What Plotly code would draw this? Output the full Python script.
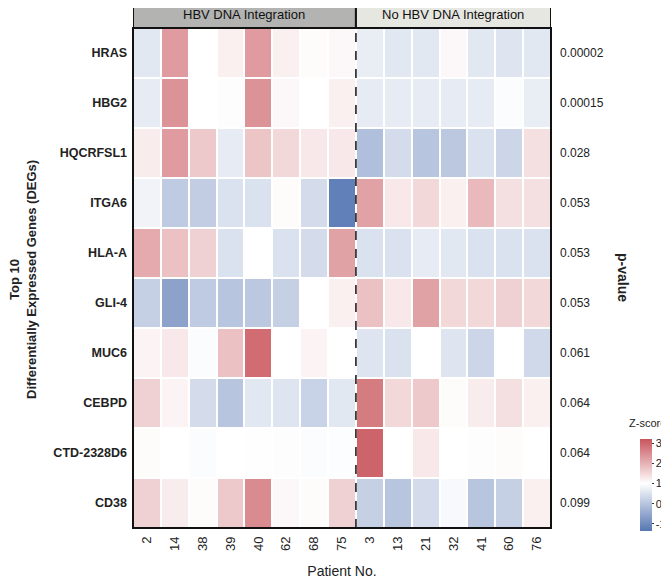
import plotly.graph_objects as go

genes = ["HRAS", "HBG2", "HQCRFSL1", "ITGA6", "HLA-A", "GLI-4", "MUC6", "CEBPD", "CTD-2328D6", "CD38"]
patients = ["2", "14", "38", "39", "40", "62", "68", "75", "3", "13", "21", "32", "41", "60", "76"]
p_values = ["0.00002", "0.00015", "0.028", "0.053", "0.053", "0.053", "0.061", "0.064", "0.064", "0.099"]
group_labels = ["HBV DNA Integration", "No HBV DNA Integration"]
group_sizes = [8, 7]

z_hras = [0.6, 2.3, 1.0, 1.2, 2.3, 1.2, 1.05, 1.1, 0.7, 0.6, 0.6, 1.1, 0.6, 0.55, 0.6]
z_hbg2 = [0.65, 2.4, 1.0, 1.02, 2.4, 1.1, 1.0, 1.2, 0.65, 0.65, 0.65, 0.65, 0.65, 0.95, 0.7]
z_hqcrfsl1 = [1.25, 2.3, 1.7, 0.65, 1.75, 1.5, 1.3, 1.3, -0.1, 0.4, 0.0, 0.05, 0.5, 0.3, 1.4]
z_itga6 = [0.8, 0.1, 0.15, 0.5, 0.5, 1.05, 0.4, -1.2, 2.2, 1.3, 1.5, 1.2, 1.9, 1.4, 1.4]
z_hla_a = [2.1, 1.8, 1.6, 0.5, 1.0, 0.5, 0.4, 2.2, 0.5, 0.5, 0.65, 0.6, 0.5, 0.5, 0.5]
z_gli4 = [0.2, -0.6, 0.1, 0.0, 0.05, 0.2, 1.0, 1.2, 1.8, 1.3, 2.2, 1.5, 1.5, 1.6, 1.5]
z_muc6 = [1.15, 1.3, 0.95, 1.8, 2.9, 1.0, 1.15, 1.0, 0.55, 0.5, 1.0, 0.55, 0.3, 1.0, 0.35]
z_cebpd = [1.6, 1.15, 0.4, 0.0, 0.6, 0.55, 0.25, 0.6, 2.7, 1.5, 1.7, 1.05, 1.25, 1.4, 1.2]
z_ctd = [1.05, 1.0, 0.95, 1.0, 0.98, 0.97, 0.95, 0.96, 3.0, 1.0, 1.3, 1.0, 1.02, 1.05, 1.0]
z_cd38 = [1.6, 1.25, 1.05, 1.7, 2.5, 1.1, 1.05, 1.6, 0.2, 0.0, 0.4, 0.9, 0.0, 0.2, 1.2]

z = [z_hras, z_hbg2, z_hqcrfsl1, z_itga6, z_hla_a, z_gli4, z_muc6, z_cebpd, z_ctd, z_cd38]

FONT = "Liberation Sans, Arial, sans-serif"
cmin, cmax = -1.35, 3.2
mid = (1 - cmin) / (cmax - cmin)
colorscale = [[0, "#5676b3"], [mid, "#ffffff"], [1, "#c8555c"]]

# the page places the figure 8px from the window's top-left corner
OFF = 8
W, H = 669 - OFF, 579 - OFF
L = 133 - OFF
T = 28 - OFF
R = W - (551 - OFF)
B = H - (528 - OFF)
PW = W - L - R
PH = H - T - B

def px_x(px):
    return (px - OFF - L) / PW

def px_y(py):
    return (H - B - (py - OFF)) / PH

fig = go.Figure()
fig.add_trace(go.Heatmap(
    z=z, x=list(range(len(patients))), y=list(range(len(genes))),
    colorscale=colorscale, zmin=cmin, zmax=cmax,
    xgap=2, ygap=2,
    colorbar=dict(
        x=px_x(640), xanchor="left", xpad=0,
        y=px_y(485), yanchor="middle", ypad=0,
        len=92 / PH, lenmode="fraction", thickness=12,
        outlinewidth=0,
        tickvals=[-1, 0, 1, 2, 3], ticktext=["-1", "0", "1", "2", "3"],
        ticks="outside", ticklen=2, tickwidth=1, tickcolor="#333",
        tickfont=dict(family=FONT, size=11, color="#222"),
    ),
    showscale=True,
))

ncol = len(patients)

fig.update_layout(
    width=W, height=H,
    margin=dict(l=L, r=R, t=T, b=B, autoexpand=False),
    paper_bgcolor="white", plot_bgcolor="white",
    font=dict(family=FONT, color="#222"),
    xaxis=dict(
        tickmode="array", tickvals=list(range(ncol)), ticktext=patients,
        tickangle=-90, tickfont=dict(family=FONT, size=13, color="#222"),
        range=[-0.5, ncol - 0.5], showgrid=False, zeroline=False,
        ticks="", ticklen=0, ticklabelstandoff=5,
        title=dict(text="Patient No.", font=dict(family=FONT, size=14, color="#222"), standoff=17),
    ),
    yaxis=dict(
        tickmode="array", tickvals=list(range(len(genes))),
        ticktext=["<b>%s</b>" % g for g in genes],
        tickfont=dict(family=FONT, size=12.5, color="#222"),
        range=[len(genes) - 0.5, -0.5], showgrid=False, zeroline=False,
        ticks="", ticklen=0, ticklabelstandoff=5,
    ),
)

# border around heatmap
fig.add_shape(type="rect", xref="paper", yref="paper", x0=0, x1=1, y0=0, y1=1,
              line=dict(color="#111", width=2), fillcolor="rgba(0,0,0,0)", layer="above")
# dashed separator
split = group_sizes[0] - 0.5
fig.add_shape(type="line", xref="x", yref="paper", x0=split, x1=split, y0=0, y1=1,
              line=dict(color="#111", width=1.5, dash="dash"), layer="above")

# header boxes
hdr_y0 = 1.0
hdr_y1 = px_y(2)
starts = [-0.5, split]
ends = [split, ncol - 0.5]
fills = ["#b3b3b1", "#e7e7e2"]
for lab, x0, x1, fc in zip(group_labels, starts, ends, fills):
    fig.add_shape(type="rect", xref="x", yref="paper", x0=x0, x1=x1, y0=hdr_y0, y1=hdr_y1,
                  line=dict(color="#111", width=2), fillcolor=fc, layer="below")
    fig.add_annotation(x=(x0 + x1) / 2, y=(hdr_y0 + hdr_y1) / 2, xref="x", yref="paper",
                       text=lab, showarrow=False, xanchor="center", yanchor="middle",
                       font=dict(family=FONT, size=13, color="#111"))

# p-values
for i, p in enumerate(p_values):
    fig.add_annotation(x=px_x(558), y=i, xref="paper", yref="y", text=p, showarrow=False,
                       xanchor="left", font=dict(family=FONT, size=12, color="#222"))

fig.add_annotation(x=px_x(623), y=px_y(277), xref="paper", yref="paper", text="<b>p-value</b>",
                   textangle=90, showarrow=False, xanchor="center", yanchor="middle",
                   font=dict(family=FONT, size=14, color="#222"))

# y title (two lines)
fig.add_annotation(x=px_x(23), y=px_y(280), xref="paper", yref="paper",
                   text="<b>Top 10</b><br><b>Differentially Expressed Genes (DEGs)</b>",
                   textangle=-90, showarrow=False, xanchor="center", yanchor="middle",
                   font=dict(family=FONT, size=13, color="#222"))

# colorbar title
fig.add_annotation(x=px_x(647), y=px_y(423), xref="paper", yref="paper", text="Z-score",
                   showarrow=False, xanchor="center", yanchor="middle",
                   font=dict(family=FONT, size=11, color="#222"))

fig.write_html("out.html")
